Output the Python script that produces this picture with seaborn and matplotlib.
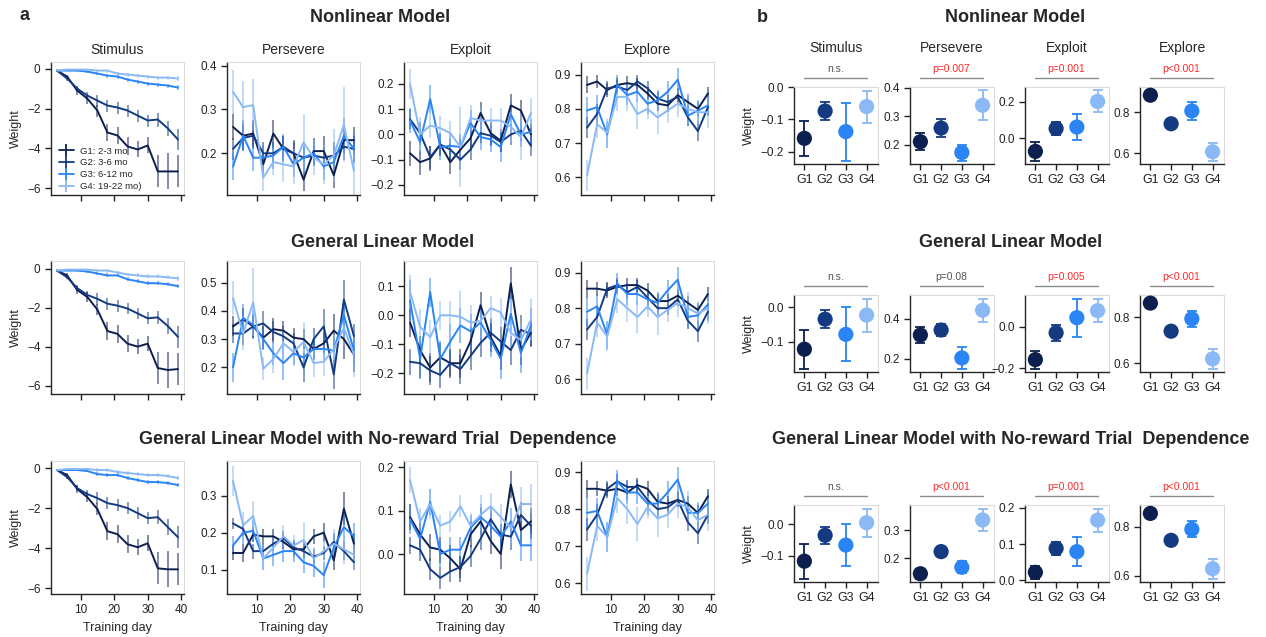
import matplotlib
matplotlib.use("Agg")
import matplotlib.pyplot as plt
import matplotlib.transforms as mtransforms
from matplotlib.lines import Line2D
from matplotlib.ticker import MultipleLocator
import numpy as np
import pandas as pd
import seaborn as sns

# ---- data ----
DAYS = [3, 6, 9, 12, 15, 18, 21, 24, 27, 30, 33, 36, 39]
GROUPS = ["G1", "G2", "G3", "G4"]
GROUP_LABELS = ["G1: 2-3 mo", "G2: 3-6 mo", "G3: 6-12 mo", "G4: 19-22 mo)"]
PARAMS = ["Stimulus", "Persevere", "Exploit", "Explore"]
MODELS = ["Nonlinear Model", "General Linear Model",
          "General Linear Model with No-reward Trial  Dependence"]
COLORS = ["#0c1f4f", "#143a82", "#2a84f4", "#8ab9f6"]

# panel a: rows = G1..G4, columns = training days
NL_STIM = [[-0.1, -0.4, -1.1, -1.5, -2.1, -3.2, -3.35, -3.9, -4.05, -3.85, -5.15, -5.15, -5.15],
           [-0.1, -0.5, -1.0, -1.35, -1.6, -1.85, -1.95, -2.1, -2.35, -2.6, -2.55, -3.0, -3.55],
           [-0.1, -0.1, -0.1, -0.15, -0.25, -0.35, -0.4, -0.55, -0.65, -0.75, -0.8, -0.85, -0.95],
           [-0.1, -0.05, -0.05, -0.05, -0.1, -0.1, -0.25, -0.3, -0.35, -0.4, -0.45, -0.45, -0.5]]
NL_STIM_ERR = [[0.05, 0.1, 0.2, 0.25, 0.3, 0.45, 0.45, 0.45, 0.4, 0.4, 0.8, 0.9, 0.8],
               [0.05, 0.1, 0.15, 0.2, 0.3, 0.3, 0.3, 0.3, 0.3, 0.3, 0.35, 0.4, 0.55],
               [0.03, 0.04, 0.05, 0.05, 0.08, 0.1, 0.1, 0.1, 0.1, 0.1, 0.1, 0.1, 0.12],
               [0.03, 0.04, 0.05, 0.05, 0.08, 0.1, 0.1, 0.1, 0.1, 0.1, 0.1, 0.1, 0.12]]
NL_PERS = [[0.26, 0.24, 0.245, 0.175, 0.245, 0.21, 0.2, 0.14, 0.205, 0.205, 0.15, 0.23, 0.23],
           [0.21, 0.235, 0.24, 0.2, 0.2, 0.215, 0.2, 0.19, 0.195, 0.19, 0.195, 0.215, 0.21],
           [0.17, 0.24, 0.19, 0.19, 0.195, 0.215, 0.175, 0.19, 0.2, 0.17, 0.18, 0.24, 0.21],
           [0.34, 0.305, 0.31, 0.145, 0.18, 0.175, 0.17, 0.225, 0.19, 0.175, 0.195, 0.265, 0.16]]
NL_PERS_ERR = [[0.03, 0.03, 0.03, 0.025, 0.03, 0.03, 0.03, 0.025, 0.03, 0.035, 0.03, 0.03, 0.03],
               [0.025, 0.03, 0.03, 0.025, 0.025, 0.025, 0.025, 0.025, 0.025, 0.025, 0.03, 0.03, 0.03],
               [0.03, 0.035, 0.03, 0.03, 0.03, 0.03, 0.03, 0.03, 0.03, 0.03, 0.035, 0.04, 0.035],
               [0.05, 0.06, 0.06, 0.03, 0.03, 0.04, 0.04, 0.065, 0.04, 0.045, 0.06, 0.085, 0.055]]
NL_EXPL = [[-0.075, -0.11, -0.095, -0.04, -0.11, -0.06, -0.015, 0.085, 0.005, -0.025, 0.115, 0.095, 0.0],
           [0.06, 0.005, -0.09, -0.04, -0.06, -0.1, -0.06, 0.005, -0.005, -0.03, 0.0, 0.015, -0.045],
           [0.055, -0.03, 0.14, -0.05, -0.045, -0.05, 0.045, -0.01, -0.02, -0.05, 0.08, 0.0, 0.01],
           [0.2, 0.0, 0.035, 0.025, 0.005, -0.05, 0.065, 0.055, 0.055, 0.055, 0.03, -0.01, 0.085]]
NL_EXPL_ERR = [[0.05, 0.05, 0.05, 0.045, 0.045, 0.045, 0.045, 0.045, 0.045, 0.045, 0.045, 0.04, 0.04],
               [0.04, 0.045, 0.045, 0.04, 0.04, 0.04, 0.04, 0.04, 0.04, 0.04, 0.04, 0.04, 0.04],
               [0.05, 0.05, 0.055, 0.05, 0.05, 0.05, 0.05, 0.05, 0.05, 0.06, 0.05, 0.05, 0.05],
               [0.06, 0.07, 0.05, 0.05, 0.05, 0.16, 0.05, 0.05, 0.05, 0.05, 0.06, 0.09, 0.06]]
NL_EXPR = [[0.87, 0.88, 0.855, 0.87, 0.875, 0.87, 0.845, 0.815, 0.81, 0.84, 0.82, 0.8, 0.845],
           [0.745, 0.785, 0.86, 0.865, 0.855, 0.88, 0.86, 0.83, 0.82, 0.835, 0.775, 0.735, 0.805],
           [0.795, 0.805, 0.725, 0.87, 0.84, 0.85, 0.815, 0.825, 0.85, 0.885, 0.78, 0.795, 0.81],
           [0.605, 0.755, 0.73, 0.835, 0.835, 0.785, 0.8, 0.775, 0.795, 0.815, 0.8, 0.79, 0.79]]
NL_EXPR_ERR = [[0.025, 0.02, 0.02, 0.02, 0.02, 0.02, 0.02, 0.02, 0.02, 0.02, 0.02, 0.02, 0.02],
               [0.03, 0.03, 0.02, 0.02, 0.02, 0.02, 0.02, 0.02, 0.02, 0.02, 0.025, 0.03, 0.025],
               [0.04, 0.035, 0.04, 0.03, 0.03, 0.03, 0.03, 0.03, 0.03, 0.035, 0.03, 0.03, 0.03],
               [0.045, 0.04, 0.04, 0.04, 0.04, 0.045, 0.03, 0.05, 0.035, 0.04, 0.045, 0.035, 0.045]]

GLM_STIM = [[-0.1, -0.35, -1.1, -1.45, -2.1, -3.2, -3.35, -3.85, -4.0, -3.85, -5.1, -5.2, -5.15],
            [-0.1, -0.45, -1.0, -1.35, -1.55, -1.8, -1.9, -2.05, -2.3, -2.55, -2.5, -2.95, -3.5],
            [-0.1, -0.1, -0.1, -0.15, -0.25, -0.35, -0.35, -0.55, -0.65, -0.75, -0.75, -0.8, -0.9],
            [-0.1, -0.05, -0.05, -0.05, -0.1, -0.1, -0.2, -0.3, -0.35, -0.4, -0.4, -0.45, -0.5]]
GLM_STIM_ERR = NL_STIM_ERR
GLM_PERS = [[0.345, 0.37, 0.345, 0.305, 0.335, 0.33, 0.305, 0.3, 0.265, 0.285, 0.33, 0.3, 0.245],
            [0.32, 0.32, 0.345, 0.355, 0.325, 0.31, 0.285, 0.2, 0.3, 0.345, 0.175, 0.44, 0.31],
            [0.2, 0.375, 0.35, 0.3, 0.25, 0.215, 0.25, 0.235, 0.265, 0.265, 0.26, 0.385, 0.26],
            [0.445, 0.32, 0.43, 0.195, 0.23, 0.285, 0.255, 0.29, 0.215, 0.22, 0.265, 0.34, 0.245]]
GLM_PERS_ERR = [[0.035, 0.04, 0.04, 0.04, 0.04, 0.035, 0.035, 0.035, 0.035, 0.035, 0.06, 0.07, 0.06],
                [0.035, 0.04, 0.04, 0.045, 0.04, 0.035, 0.035, 0.05, 0.04, 0.06, 0.05, 0.07, 0.045],
                [0.05, 0.05, 0.05, 0.04, 0.04, 0.06, 0.04, 0.04, 0.04, 0.04, 0.04, 0.05, 0.05],
                [0.06, 0.06, 0.12, 0.04, 0.05, 0.05, 0.05, 0.07, 0.05, 0.05, 0.05, 0.06, 0.08]]
GLM_EXPL = [[-0.025, -0.12, -0.18, -0.145, -0.165, -0.165, -0.09, 0.035, -0.075, -0.14, 0.11, -0.12, -0.06],
            [-0.16, -0.165, -0.19, -0.205, -0.165, -0.185, -0.14, -0.095, -0.06, -0.09, -0.12, -0.05, -0.065],
            [0.05, -0.15, 0.08, -0.15, -0.09, -0.035, -0.055, -0.025, -0.085, -0.15, 0.005, -0.13, -0.035],
            [0.08, -0.04, -0.075, 0.0, 0.0, -0.005, -0.025, -0.02, 0.025, 0.01, -0.06, -0.085, -0.015]]
GLM_EXPL_ERR = [[0.05, 0.05, 0.05, 0.05, 0.05, 0.05, 0.05, 0.045, 0.05, 0.05, 0.055, 0.05, 0.045],
                [0.045, 0.05, 0.05, 0.045, 0.045, 0.05, 0.05, 0.05, 0.05, 0.05, 0.05, 0.05, 0.045],
                [0.07, 0.07, 0.05, 0.06, 0.06, 0.06, 0.06, 0.06, 0.06, 0.07, 0.06, 0.07, 0.06],
                [0.06, 0.06, 0.06, 0.05, 0.05, 0.09, 0.06, 0.06, 0.04, 0.05, 0.06, 0.06, 0.07]]
GLM_EXPR = [[0.855, 0.855, 0.85, 0.86, 0.865, 0.865, 0.85, 0.82, 0.82, 0.835, 0.815, 0.795, 0.84],
            [0.74, 0.775, 0.855, 0.865, 0.845, 0.86, 0.83, 0.8, 0.8, 0.825, 0.765, 0.735, 0.79],
            [0.79, 0.805, 0.725, 0.87, 0.84, 0.84, 0.825, 0.815, 0.85, 0.88, 0.775, 0.78, 0.81],
            [0.615, 0.76, 0.72, 0.825, 0.8, 0.775, 0.805, 0.775, 0.795, 0.815, 0.8, 0.785, 0.8]]
GLM_EXPR_ERR = NL_EXPR_ERR

NR_STIM = [[-0.1, -0.35, -1.05, -1.45, -2.05, -3.15, -3.3, -3.8, -3.95, -3.75, -5.0, -5.05, -5.05],
           [-0.1, -0.45, -1.0, -1.3, -1.5, -1.75, -1.85, -2.0, -2.25, -2.5, -2.45, -2.95, -3.45],
           [-0.1, -0.1, -0.1, -0.15, -0.3, -0.35, -0.35, -0.5, -0.6, -0.7, -0.7, -0.75, -0.85],
           [-0.1, -0.05, -0.05, -0.05, -0.1, -0.1, -0.2, -0.25, -0.3, -0.35, -0.35, -0.4, -0.5]]
NR_STIM_ERR = NL_STIM_ERR
NR_PERS = [[0.145, 0.145, 0.195, 0.19, 0.19, 0.175, 0.155, 0.155, 0.19, 0.2, 0.125, 0.265, 0.17],
           [0.225, 0.21, 0.15, 0.15, 0.17, 0.185, 0.16, 0.15, 0.135, 0.145, 0.175, 0.15, 0.12],
           [0.165, 0.2, 0.205, 0.13, 0.14, 0.15, 0.15, 0.12, 0.11, 0.085, 0.16, 0.215, 0.19],
           [0.34, 0.22, 0.245, 0.13, 0.16, 0.19, 0.165, 0.18, 0.13, 0.15, 0.17, 0.155, 0.14]]
NR_PERS_ERR = [[0.02, 0.025, 0.02, 0.02, 0.02, 0.02, 0.02, 0.02, 0.02, 0.025, 0.025, 0.045, 0.03],
               [0.015, 0.02, 0.02, 0.02, 0.02, 0.02, 0.02, 0.02, 0.02, 0.02, 0.025, 0.025, 0.02],
               [0.025, 0.03, 0.03, 0.03, 0.03, 0.03, 0.03, 0.03, 0.03, 0.035, 0.035, 0.04, 0.035],
               [0.04, 0.035, 0.04, 0.03, 0.03, 0.03, 0.03, 0.05, 0.03, 0.03, 0.04, 0.04, 0.04]]
NR_EXPL = [[0.085, 0.045, 0.015, 0.01, -0.01, -0.035, 0.045, 0.075, 0.03, 0.0, 0.16, 0.055, 0.075],
           [0.02, 0.01, -0.035, -0.055, -0.04, -0.03, -0.005, 0.035, 0.08, 0.045, 0.04, 0.09, 0.065],
           [0.08, 0.035, 0.12, 0.0, 0.01, 0.01, 0.06, 0.085, 0.065, 0.04, 0.075, 0.02, 0.02],
           [0.17, 0.075, 0.115, 0.065, 0.075, 0.11, 0.065, 0.09, 0.11, 0.085, 0.06, 0.115, 0.115]]
NR_EXPL_ERR = [[0.03, 0.03, 0.03, 0.03, 0.03, 0.03, 0.03, 0.03, 0.03, 0.035, 0.03, 0.03, 0.03],
               [0.02, 0.025, 0.025, 0.025, 0.025, 0.025, 0.025, 0.025, 0.025, 0.025, 0.03, 0.03, 0.03],
               [0.035, 0.035, 0.03, 0.03, 0.03, 0.03, 0.03, 0.03, 0.03, 0.03, 0.03, 0.035, 0.035],
               [0.03, 0.03, 0.035, 0.025, 0.025, 0.025, 0.03, 0.045, 0.03, 0.03, 0.035, 0.04, 0.045]]
NR_EXPR = [[0.855, 0.855, 0.85, 0.855, 0.845, 0.865, 0.855, 0.82, 0.815, 0.825, 0.815, 0.79, 0.835],
           [0.745, 0.785, 0.855, 0.875, 0.86, 0.86, 0.825, 0.8, 0.805, 0.825, 0.765, 0.735, 0.785],
           [0.79, 0.795, 0.725, 0.875, 0.845, 0.845, 0.815, 0.815, 0.845, 0.88, 0.79, 0.79, 0.815],
           [0.625, 0.755, 0.725, 0.83, 0.8, 0.76, 0.805, 0.775, 0.785, 0.815, 0.805, 0.77, 0.785]]
NR_EXPR_ERR = NL_EXPR_ERR

# panel b: rows = parameters, columns = G1..G4
B_NL_MEANS = [[-0.159, -0.074, -0.138, -0.06], [0.211, 0.259, 0.173, 0.339],
              [-0.073, 0.053, 0.061, 0.202], [0.884, 0.744, 0.807, 0.607]]
B_NL_ERRS = [[0.055, 0.028, 0.09, 0.05], [0.03, 0.031, 0.028, 0.052],
             [0.05, 0.037, 0.07, 0.06], [0.023, 0.015, 0.043, 0.043]]
B_GLM_MEANS = [[-0.121, -0.034, -0.078, -0.022], [0.318, 0.343, 0.203, 0.442],
               [-0.159, -0.029, 0.044, 0.078], [0.861, 0.739, 0.793, 0.619]]
B_GLM_ERRS = [[0.056, 0.026, 0.078, 0.048], [0.04, 0.03, 0.053, 0.059],
              [0.043, 0.038, 0.093, 0.057], [0.02, 0.017, 0.035, 0.042]]
B_NR_MEANS = [[-0.117, -0.035, -0.066, 0.005], [0.145, 0.224, 0.168, 0.337],
              [0.022, 0.088, 0.079, 0.166], [0.855, 0.745, 0.79, 0.629]]
B_NR_ERRS = [[0.055, 0.026, 0.066, 0.045], [0.017, 0.015, 0.022, 0.041],
             [0.017, 0.017, 0.04, 0.032], [0.02, 0.016, 0.032, 0.04]]

P_TEXT = [["n.s.", "p=0.007", "p=0.001", "p<0.001"],
          ["n.s.", "p=0.08", "p=0.005", "p<0.001"],
          ["n.s.", "p<0.001", "p=0.001", "p<0.001"]]
P_SIG = [[False, True, True, True],
         [False, False, True, True],
         [False, True, True, True]]

A_MEANS = [[NL_STIM, NL_PERS, NL_EXPL, NL_EXPR],
           [GLM_STIM, GLM_PERS, GLM_EXPL, GLM_EXPR],
           [NR_STIM, NR_PERS, NR_EXPL, NR_EXPR]]
A_ERRS = [[NL_STIM_ERR, NL_PERS_ERR, NL_EXPL_ERR, NL_EXPR_ERR],
          [GLM_STIM_ERR, GLM_PERS_ERR, GLM_EXPL_ERR, GLM_EXPR_ERR],
          [NR_STIM_ERR, NR_PERS_ERR, NR_EXPL_ERR, NR_EXPR_ERR]]
B_MEANS = [B_NL_MEANS, B_GLM_MEANS, B_NR_MEANS]
B_ERRS = [B_NL_ERRS, B_GLM_ERRS, B_NR_ERRS]

# axis ranges / tick steps
A_YLIM = [[(-6.33, 0.33), (0.105, 0.408), (-0.24, 0.287), (0.548, 0.937)],
          [(-6.43, 0.39), (0.106, 0.576), (-0.271, 0.187), (0.558, 0.933)],
          [(-6.28, 0.35), (0.034, 0.394), (-0.092, 0.214), (0.571, 0.93)]]
A_YSTEP = [2, 0.1, 0.1, 0.1]
B_YSTEP = [[0.1, 0.1, 0.2, 0.2], [0.1, 0.2, 0.2, 0.2], [0.1, 0.1, 0.1, 0.2]]

# ---- style ----
sns.set_style("ticks")
plt.rcParams["font.family"] = ["Liberation Sans", "DejaVu Sans"]
plt.rcParams["axes.linewidth"] = 1.0

W, H = 1266, 637
fig = plt.figure(figsize=(W / 100, H / 100), dpi=100)


def px_axes(left, top, w, h):
    return fig.add_axes([left / W, 1 - (top + h) / H, w / W, h / H])


def style_axes(ax):
    for s in ["top", "right"]:
        ax.spines[s].set_color("#dcdcdc")
        ax.spines[s].set_linewidth(0.8)
    ax.tick_params(labelsize=8.5, length=4, width=1, direction="out", colors="#222222")
    ax.set_xlabel("")
    ax.set_ylabel("")


A_LEFT = [51, 227, 404, 581]
A_TOP = [62, 261, 461]
B_LEFT = [794, 910, 1025, 1140]
B_TOP = [87, 295, 505]

for r in range(3):
    # ---- panel a ----
    for c in range(4):
        ax = px_axes(A_LEFT[c], A_TOP[r], 133, 133)
        means, errs = A_MEANS[r][c], A_ERRS[r][c]
        df = pd.DataFrame({"day": DAYS * 4,
                           "weight": np.concatenate(means),
                           "group": np.repeat(GROUPS, len(DAYS))})
        for g in range(4):
            ax.errorbar(DAYS, means[g], yerr=errs[g], fmt="none", ecolor=COLORS[g],
                        elinewidth=1.3, alpha=0.55)
        sns.lineplot(data=df, x="day", y="weight", hue="group", hue_order=GROUPS,
                     palette=COLORS, linewidth=1.4, errorbar=None, legend=False, ax=ax)
        style_axes(ax)
        ax.set_xlim(1.2, 40.8)
        ax.set_xticks([10, 20, 30, 40])
        ax.set_ylim(*A_YLIM[r][c])
        ax.yaxis.set_major_locator(MultipleLocator(A_YSTEP[c]))
        if r == 2:
            ax.set_xlabel("Training day", fontsize=9)
        else:
            ax.tick_params(labelbottom=False)
        if r == 0:
            ax.set_title(PARAMS[c], fontsize=10, pad=6)
        if c == 0:
            ax.set_ylabel("Weight", fontsize=9)
        if r == 0 and c == 0:
            handles = [Line2D([], [], color=COLORS[g], lw=1.3, marker="|", markersize=9,
                              markeredgewidth=1.3) for g in range(4)]
            ax.legend(handles, GROUP_LABELS, loc="lower left", bbox_to_anchor=(0.01, -0.02),
                      frameon=False, fontsize=6.8, handlelength=1.6, labelspacing=0.3,
                      handletextpad=0.6, borderpad=0.2)

    # ---- panel b ----
    for c in range(4):
        ax = px_axes(B_LEFT[c], B_TOP[r], 84, 77)
        means, errs = B_MEANS[r][c], B_ERRS[r][c]
        sns.scatterplot(x=GROUPS, y=means, hue=GROUPS, palette=COLORS, s=120,
                        edgecolor="none", legend=False, zorder=3, ax=ax)
        for g in range(4):
            ax.errorbar([GROUPS[g]], [means[g]], yerr=[errs[g]], fmt="none",
                        ecolor=COLORS[g], elinewidth=1.3, capsize=3.5, capthick=1.3, zorder=2)
        style_axes(ax)
        ax.tick_params(axis="x", labelsize=9)
        ax.set_xlim(-0.5, 3.55)
        ax.yaxis.set_major_locator(MultipleLocator(B_YSTEP[r][c]))
        if r == 0:
            ax.set_title(PARAMS[c], fontsize=10, pad=25)
        if c == 0:
            ax.set_ylabel("Weight", fontsize=9)
        trans = mtransforms.blended_transform_factory(ax.transData, ax.transAxes)
        ax.plot([GROUPS[0], GROUPS[3]], [1.12, 1.12], color="#8c8c8c", lw=1.0,
                transform=trans, clip_on=False)
        ax.text(1.5, 1.17, P_TEXT[r][c], transform=trans, ha="center", va="bottom",
                fontsize=7.5, color="#ff2a2a" if P_SIG[r][c] else "#555555")

# ---- headings ----
TITLE_Y = [17, 242, 439]
TITLE_XA = [380, 383, 378]
TITLE_XB = [1015, 1011, 1011]
for r in range(3):
    fig.text(TITLE_XA[r] / W, 1 - TITLE_Y[r] / H, MODELS[r], ha="center", va="center",
             fontsize=13, fontweight="bold")
    fig.text(TITLE_XB[r] / W, 1 - TITLE_Y[r] / H, MODELS[r], ha="center", va="center",
             fontsize=13, fontweight="bold")
fig.text(20 / W, 1 - 15 / H, "a", ha="left", va="center", fontsize=13, fontweight="bold")
fig.text(757 / W, 1 - 17 / H, "b", ha="left", va="center", fontsize=13, fontweight="bold")

fig.savefig("out.png", dpi=100)
